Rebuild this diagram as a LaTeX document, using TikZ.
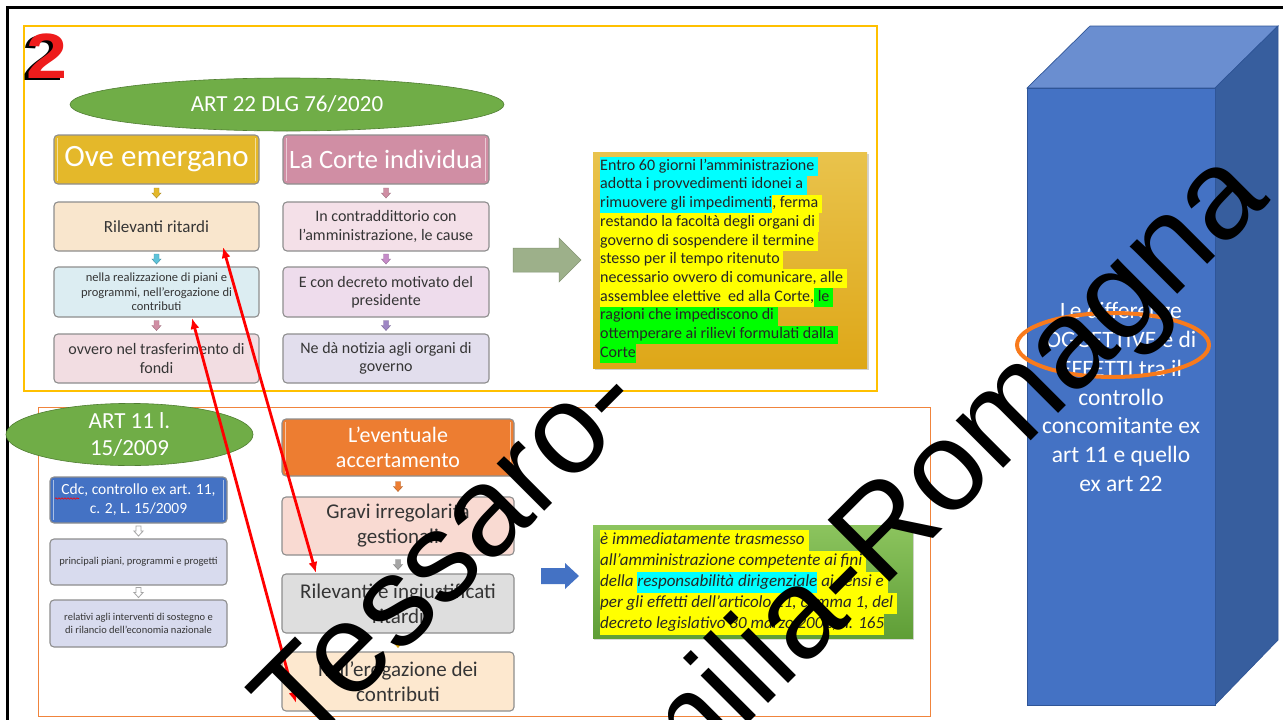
\documentclass[tikz,border=0pt]{standalone}
\usepackage{fontspec}
\setmainfont{Carlito}
\newfontfamily\wmfont{Liberation Sans}
\usetikzlibrary{shapes.geometric,shadows,decorations.pathmorphing,arrows.meta,calc}

\definecolor{frameY}{HTML}{FFC000}
\definecolor{frameO}{HTML}{F0843C}
\definecolor{ellG}{HTML}{70AD47}
\definecolor{ellGline}{HTML}{507E32}
\definecolor{boxline}{HTML}{8E8E8E}
\definecolor{boxtext}{HTML}{353535}
\definecolor{cOve}{HTML}{E4B82A}
\definecolor{cCorte}{HTML}{D08EA4}
\definecolor{cRil}{HTML}{F9E6CD}
\definecolor{cNella}{HTML}{DCEDF2}
\definecolor{cOvvero}{HTML}{F2DDE2}
\definecolor{cContr}{HTML}{F4E0E8}
\definecolor{cDecr}{HTML}{EEDCEC}
\definecolor{cNotiz}{HTML}{E2DEED}
\definecolor{cCdc}{HTML}{4472C4}
\definecolor{cPrinc}{HTML}{D8DBEE}
\definecolor{cEvent}{HTML}{ED7D31}
\definecolor{cGravi}{HTML}{F9DAD2}
\definecolor{cRilev}{HTML}{DEDEDE}
\definecolor{cErog}{HTML}{FDE8CF}
\definecolor{hlcyan}{HTML}{00FFFF}
\definecolor{hlyellow}{HTML}{FFFF00}
\definecolor{hlgreen}{HTML}{00FF00}
\definecolor{goldTop}{HTML}{E9C34C}
\definecolor{goldBot}{HTML}{DEA718}
\definecolor{grnTop}{HTML}{8CC45E}
\definecolor{grnBot}{HTML}{5F9E37}
\definecolor{arrGrey}{HTML}{9DB08A}
\definecolor{blkFront}{HTML}{4472C4}
\definecolor{blkTop}{HTML}{6A8ED0}
\definecolor{blkSide}{HTML}{375E9E}
\definecolor{blkEdge}{HTML}{2F5597}
\definecolor{ringO}{HTML}{F87A1C}
\definecolor{digitRed}{HTML}{EE1C1C}
\definecolor{aCyan}{HTML}{5DC3DA}
\definecolor{aPurp}{HTML}{C58BC8}
\definecolor{aViol}{HTML}{9E86C4}
\definecolor{aGrey}{HTML}{A5A5A5}

% highlighted run of text, tiling the full line height
\newcommand\hlseg[2]{{\setlength{\fboxsep}{0pt}\colorbox{#1}{\strut #2}}}

\tikzset{
  sbox/.style={rectangle, rounded corners=4pt, draw=boxline, line width=1.1pt,
               align=center, inner sep=1pt, text=boxtext},
  greenell/.style={ellipse, fill=ellG, draw=ellGline, line width=.6pt,
                   text=white, align=center, inner sep=0pt},
  dnarrow/.pic={\path[pic actions] (-2.5,-5) -- (2.5,-5) -- (2.5,0) -- (4.6,0)
                 -- (0,5) -- (-4.6,0) -- (-2.5,0) -- cycle;},
  redlink/.style={draw=red, line width=2.8pt,
                  {Latex[length=11pt,width=9pt]}-{Latex[length=11pt,width=9pt]}},
  strip/.style={white, opacity=.55, line width=1.6pt},
  wm/.style={anchor=base west, inner sep=0pt, rotate=45, text=black,
             font=\wmfont\fontsize{127}{127}\selectfont},
}

\begin{document}
\begin{tikzpicture}[x=1pt,y=-1pt]
\useasboundingbox (0,0) rectangle (1283,720);
\clip (0,0) rectangle (1283,720);
\fill[white] (0,0) rectangle (1283,720);

% outer slide border
\draw[black, line width=3pt] (7,7) rectangle (1310,760);

% the two framed sections
\draw[frameY, line width=1.2pt] (24,26) rectangle (877,391);
\draw[frameO, line width=1pt] (38,407) rectangle (930,716);

% section number
\node[anchor=base west, inner sep=0pt, xscale=1.15, text=black,
      font=\wmfont\bfseries\fontsize{64}{64}\selectfont] (numshadow) at (22.5,80) {2};
\node[anchor=base west, inner sep=0pt, xscale=1.15, text=digitRed,
      font=\wmfont\bfseries\fontsize{64}{64}\selectfont] (num) at (26,78) {2};

% ---------- art. 22 section ----------
\node[greenell, minimum width=434pt, minimum height=53pt,
      font=\fontsize{23}{27}\selectfont] (art22) at (287,104.5) {ART 22 DLG 76/2020};

\node[sbox, fill=cOve, minimum width=205pt, minimum height=49pt, text=white,
      font=\fontsize{31}{34}\selectfont] (ove) at (156.5,159.5) {Ove emergano};
\node[sbox, fill=cRil, minimum width=205pt, minimum height=49pt,
      font=\fontsize{17}{20}\selectfont] (ril) at (156.5,226.5) {Rilevanti ritardi};
\node[sbox, fill=cNella, minimum width=205pt, minimum height=50pt,
      font=\fontsize{12.5}{14.5}\selectfont] (nella) at (156.5,292)
      {nella realizzazione di piani e\\programmi, nell’erogazione di\\contributi};
\node[sbox, fill=cOvvero, minimum width=205pt, minimum height=49pt,
      font=\fontsize{16}{18.5}\selectfont] (ovvero) at (156.5,358.5)
      {ovvero nel trasferimento di\\fondi};

\node[sbox, fill=cCorte, minimum width=206pt, minimum height=49pt, text=white,
      font=\fontsize{26.5}{30}\selectfont] (corte) at (386,159.5) {La Corte individua};
\node[sbox, fill=cContr, minimum width=206pt, minimum height=49pt,
      font=\fontsize{16}{18.5}\selectfont] (contr) at (386,226.5)
      {In contraddittorio con\\l’amministrazione, le cause};
\node[sbox, fill=cDecr, minimum width=206pt, minimum height=50pt,
      font=\fontsize{16}{18.5}\selectfont] (decr) at (386,292)
      {E con decreto motivato del\\presidente};
\node[sbox, fill=cNotiz, minimum width=206pt, minimum height=49pt,
      font=\fontsize{16}{18.5}\selectfont] (notiz) at (386,358.5)
      {Ne dà notizia agli organi di\\governo};

% light edge strips on the heading boxes
\foreach \b in {ove,corte}{
  \draw[strip] ($(\b.north west)+(4,4)$) -- ($(\b.south west)+(4,-4)$);
  \draw[strip] ($(\b.north east)+(-4,4)$) -- ($(\b.south east)+(-4,-4)$);
}

% small step arrows
\pic[fill=cOve, draw=cOve!75!black, line width=.4pt] at ($(ove.south)!.5!(ril.north)$) {dnarrow};
\pic[fill=aCyan, draw=aCyan!75!black, line width=.4pt] at ($(ril.south)!.5!(nella.north)$) {dnarrow};
\pic[fill=cCorte, draw=cCorte!75!black, line width=.4pt] at ($(nella.south)!.5!(ovvero.north)$) {dnarrow};
\pic[fill=cCorte, draw=cCorte!75!black, line width=.4pt] at ($(corte.south)!.5!(contr.north)$) {dnarrow};
\pic[fill=aPurp, draw=aPurp!75!black, line width=.4pt] at ($(contr.south)!.5!(decr.north)$) {dnarrow};
\pic[fill=aViol, draw=aViol!75!black, line width=.4pt] at ($(decr.south)!.5!(notiz.north)$) {dnarrow};

% block arrow towards the consequences
\filldraw[fill=arrGrey, draw=arrGrey!85!black, line width=.5pt]
  (513,248) -- (559,248) -- (559,238) -- (581,260) -- (559,282) -- (559,272) -- (513,272) -- cycle;

% consequences of art. 22
\node[rectangle, minimum width=274pt, minimum height=216pt, top color=goldTop, bottom color=goldBot,
      drop shadow={shadow xshift=1.5pt, shadow yshift=-2pt, opacity=.35}] (ybox) at (730,260) {};
\node[anchor=north west, inner sep=0pt, align=left, text=black!85,
      font=\fontsize{16}{18.7}\selectfont] (ytext) at (600,157) {%
\hlseg{hlcyan}{Entro 60 giorni l’amministrazione\ }\\
\hlseg{hlcyan}{adotta i provvedimenti idonei a\ }\\
\hlseg{hlcyan}{rimuovere gli impedimenti}\hlseg{hlyellow}{, ferma\ }\\
\hlseg{hlyellow}{restando la facoltà degli organi di\ }\\
\hlseg{hlyellow}{governo di sospendere il termine\ }\\
\hlseg{hlyellow}{stesso per il tempo ritenuto\ }\\
\hlseg{hlyellow}{necessario ovvero di comunicare, alle\ }\\
\hlseg{hlyellow}{assemblee elettive\ \ ed alla Corte,}\hlseg{hlgreen}{ le\ }\\
\hlseg{hlgreen}{ragioni che impediscono di\ }\\
\hlseg{hlgreen}{ottemperare ai rilievi formulati dalla\ }\\
\hlseg{hlgreen}{Corte}};

% ---------- art. 11 section ----------
\node[sbox, fill=cCdc, minimum width=177pt, minimum height=46pt, text=white,
      font=\fontsize{15.5}{19}\selectfont] (cdc) at (138.5,500)
      {Cdc, controllo ex art. 11,\\c. 2, L. 15/2009};
\node[sbox, fill=cPrinc, minimum width=177pt, minimum height=46pt,
      font=\fontsize{10.5}{13}\selectfont] (princ) at (138.5,562)
      {principali piani, programmi e progetti};
\node[sbox, fill=cPrinc, minimum width=177pt, minimum height=47pt,
      font=\fontsize{10.5}{13}\selectfont] (relat) at (138.5,623.5)
      {relativi agli interventi di sostegno e\\di rilancio dell’economia nazionale};
\draw[red, line width=.6pt, decorate, decoration={snake, amplitude=.7pt, segment length=3pt}]
  (55,498.5) -- (79,498.5);

\node[sbox, fill=cEvent, minimum width=232pt, minimum height=57pt, text=white,
      font=\fontsize{22}{24.5}\selectfont] (event) at (398,447.5)
      {L’eventuale\\accertamento};
\node[sbox, fill=cGravi, minimum width=232pt, minimum height=58pt,
      font=\fontsize{21}{25}\selectfont] (gravi) at (398,526)
      {Gravi irregolarità\\gestionali};
\node[sbox, fill=cRilev, minimum width=232pt, minimum height=59pt,
      font=\fontsize{21}{25}\selectfont] (rilev) at (398,603.5)
      {Rilevanti e ingiustificati\\ritardi};
\node[sbox, fill=cErog, minimum width=232pt, minimum height=59pt,
      font=\fontsize{21}{25}\selectfont] (erog) at (398,681.5)
      {nell’erogazione dei\\contributi};

\foreach \b in {cdc,event}{
  \draw[strip] ($(\b.north west)+(4,4)$) -- ($(\b.south west)+(4,-4)$);
  \draw[strip] ($(\b.north east)+(-4,4)$) -- ($(\b.south east)+(-4,-4)$);
}

\pic[fill=white, draw=aGrey, line width=.8pt] at ($(cdc.south)!.5!(princ.north)$) {dnarrow};
\pic[fill=white, draw=aGrey, line width=.8pt] at ($(princ.south)!.5!(relat.north)$) {dnarrow};
\pic[fill=cEvent, draw=cEvent!75!black, line width=.4pt] at ($(event.south)!.5!(gravi.north)$) {dnarrow};
\pic[fill=aGrey, draw=aGrey!75!black, line width=.4pt] at ($(gravi.south)!.5!(rilev.north)$) {dnarrow};
\pic[fill=frameY, draw=frameY!75!black, line width=.4pt] at ($(rilev.south)!.5!(erog.north)$) {dnarrow};

\node[greenell, minimum width=247pt, minimum height=53pt,
      font=\fontsize{23}{27}\selectfont] (art11) at (129.5,434.5) {ART 11 l.\\15/2009};

% block arrow towards the consequences
\fill[cCdc] (541,568) -- (565,568) -- (565,563) -- (579,576) -- (565,589) -- (565,584) -- (541,584) -- cycle;

% consequences of art. 11
\node[rectangle, minimum width=320pt, minimum height=113pt, top color=grnTop, bottom color=grnBot,
      drop shadow={shadow xshift=1pt, shadow yshift=-1.5pt, opacity=.3}] (gbox) at (753,581.5) {};
\node[anchor=north west, inner sep=0pt, align=left, text=black!85,
      font=\itshape\fontsize{17}{21}\selectfont] (gtext) at (600,530) {%
\hlseg{hlyellow}{è immediatamente trasmesso\ }\\
\hlseg{hlyellow}{all’amministrazione competente ai fini\ }\\
\hlseg{hlyellow}{della }\hlseg{hlcyan}{responsabilità dirigenziale}\hlseg{hlyellow}{ ai sensi e\ }\\
\hlseg{hlyellow}{per gli effetti dell’articolo 21, comma 1, del\ }\\
\hlseg{hlyellow}{decreto legislativo 30 marzo 2001, n. 165}};

% ---------- comparison block ----------
\filldraw[fill=blkTop, draw=blkEdge, line width=.7pt]
  (1027,88) -- (1090,26) -- (1278,26) -- (1215,88) -- cycle;
\filldraw[fill=blkSide, draw=blkEdge, line width=.7pt]
  (1215,88) -- (1278,26) -- (1278,640) -- (1215,705) -- cycle;
\filldraw[fill=blkFront, draw=blkEdge, line width=.7pt] (1027,88) rectangle (1215,705);
\node[align=center, text=white, inner sep=0pt, font=\fontsize{23.5}{28.8}\selectfont] (diff) at (1121,397)
  {Le differenze\\OGGETTIVE e di\\EFFETTI tra il\\controllo\\concomitante ex\\art 11 e quello\\ex art 22};
\node[ellipse, draw=ringO, line width=4pt, minimum width=192pt, minimum height=64pt] (ring) at (1113,345) {};

% ---------- links between matching items ----------
\coordinate (ritTip)   at (223,247);
\coordinate (rilevTip) at (316,573);
\coordinate (nellaTip) at (192,318);
\coordinate (erogTip)  at (296,703);
\draw[redlink] (ritTip) -- (rilevTip);
\draw[redlink] (nellaTip) -- (erogTip);

% ---------- watermark ----------
\node[wm] (wm1) at (304,752) {Tessaro-};
\node[wm] (wm2) at (608,864) {Emilia-Romagna};
\end{tikzpicture}
\end{document}
